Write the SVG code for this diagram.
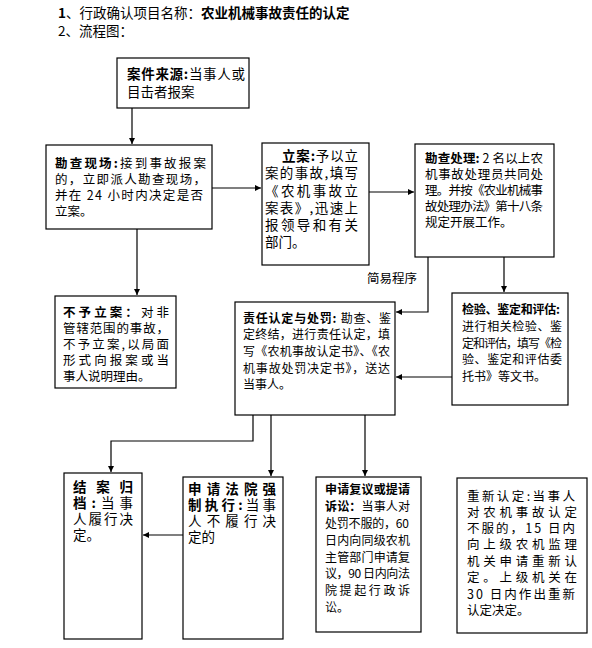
<svg xmlns="http://www.w3.org/2000/svg" width="592" height="648" viewBox="0 0 592 648">
<defs>
<style>
text{font-family:"Noto Sans CJK SC","Liberation Sans",sans-serif;fill:#000;dominant-baseline:central}
.b{font-weight:bold}
.box{fill:#fff;stroke:#000;stroke-width:1.2}
.ln{fill:none;stroke:#000;stroke-width:1.2}
.f13{font-size:12.5px}
.f12{font-size:12px}
.f14{font-size:13.5px}
.f15{font-size:13.5px}
</style>
<marker id="ah" viewBox="0 0 10 10" refX="10" refY="5" markerWidth="6" markerHeight="6" orient="auto" markerUnits="userSpaceOnUse">
<path d="M0,0 L10,5 L0,10 z" fill="#000"/>
</marker>
</defs>
<rect width="592" height="648" fill="#fff"/>

<g id="title">
<text x="58" y="12" font-size="13.5"><tspan class="b">1</tspan>、行政确认项目名称：<tspan class="b">农业机械事故责任的认定</tspan></text>
<text x="58" y="30" font-size="13.5">2、流程图：</text>
</g>

<g id="connectors">
<path class="ln" d="M132,108 V144" marker-end="url(#ah)"/>
<path class="ln" d="M212,188 H261" marker-end="url(#ah)"/>
<path class="ln" d="M369,192 H414" marker-end="url(#ah)"/>
<path class="ln" d="M137,229 V295" marker-end="url(#ah)"/>
<path class="ln" d="M428,257 V312 H396" marker-end="url(#ah)"/>
<path class="ln" d="M504,257 V292" marker-end="url(#ah)"/>
<path class="ln" d="M452,377 H396" marker-end="url(#ah)"/>
<path class="ln" d="M253,415 V441 H111 V472" marker-end="url(#ah)"/>
<path class="ln" d="M271,415 V476" marker-end="url(#ah)"/>
<path class="ln" d="M365,415 V476" marker-end="url(#ah)"/>
<path class="ln" d="M183,535 H143" marker-end="url(#ah)"/>
<text x="367" y="277" class="f13">简易程序</text>
</g>

<g id="n1">
<rect class="box" x="117" y="58" width="132" height="50"/>
<text x="127" y="73" class="f14" textLength="118" lengthAdjust="spacing"><tspan class="b">案件来源:</tspan>当事人或</text>
<text x="127" y="91" class="f14">目击者报案</text>
</g>

<g id="n2">
<rect class="box" x="46" y="145" width="166" height="84"/>
<text x="55" y="162" class="f13" textLength="151" lengthAdjust="spacing"><tspan class="b">勘查现场:</tspan>接到事故报案</text>
<text x="55" y="178" class="f13" textLength="151" lengthAdjust="spacing">的，立即派人勘查现场，</text>
<text x="55" y="194" class="f13" textLength="148" lengthAdjust="spacing">并在 24 小时内决定是否</text>
<text x="55" y="210" class="f13">立案。</text>
</g>

<g id="n3">
<rect class="box" x="262" y="143" width="107" height="122"/>
<text x="282" y="155" class="f14" textLength="76" lengthAdjust="spacing"><tspan class="b">立案:</tspan>予以立</text>
<text x="265" y="172" class="f14" textLength="93" lengthAdjust="spacing">案的事故,填写</text>
<text x="265" y="190" class="f14" textLength="93" lengthAdjust="spacing">《农机事故立</text>
<text x="265" y="207" class="f14" textLength="93" lengthAdjust="spacing">案表》,迅速上</text>
<text x="265" y="224" class="f14" textLength="93" lengthAdjust="spacing">报领导和有关</text>
<text x="265" y="241" class="f14">部门。</text>
</g>

<g id="n4">
<rect class="box" x="415" y="144" width="139" height="113"/>
<text x="425" y="157" class="f13" textLength="118" lengthAdjust="spacing"><tspan class="b">勘查处理:</tspan> 2 名以上农</text>
<text x="425" y="173" class="f13" textLength="118" lengthAdjust="spacing">机事故处理员共同处</text>
<text x="425" y="189" class="f13" textLength="118" lengthAdjust="spacing">理。并按《农业机械事</text>
<text x="425" y="205" class="f13" textLength="118" lengthAdjust="spacing">故处理办法》第十八条</text>
<text x="425" y="221" class="f13">规定开展工作。</text>
</g>

<g id="n5">
<rect class="box" x="55" y="296" width="121" height="92"/>
<text x="63" y="311" class="f13" textLength="106" lengthAdjust="spacing"><tspan class="b">不予立案：</tspan>对非</text>
<text x="63" y="327" class="f13" textLength="106" lengthAdjust="spacing">管辖范围的事故，</text>
<text x="63" y="343" class="f13" textLength="106" lengthAdjust="spacing">不予立案,以局面</text>
<text x="63" y="359" class="f13" textLength="106" lengthAdjust="spacing">形式向报案或当</text>
<text x="63" y="375" class="f13">事人说明理由。</text>
</g>

<g id="n6">
<rect class="box" x="235" y="302" width="160" height="113"/>
<text x="243" y="317" class="f12" textLength="148" lengthAdjust="spacing"><tspan class="b">责任认定与处罚:</tspan> 勘查、鉴</text>
<text x="243" y="333" class="f12" textLength="147" lengthAdjust="spacing">定终结，进行责任认定，填</text>
<text x="243" y="350" class="f12" textLength="147" lengthAdjust="spacing">写《农机事故认定书》、《农</text>
<text x="243" y="367" class="f12" textLength="147" lengthAdjust="spacing">机事故处罚决定书》，送达</text>
<text x="243" y="383" class="f12">当事人。</text>
</g>

<g id="n7">
<rect class="box" x="452" y="293" width="116" height="112"/>
<text x="462" y="308" class="f12 b" textLength="98" lengthAdjust="spacing">检验、鉴定和评估:</text>
<text x="462" y="325" class="f12" textLength="100" lengthAdjust="spacing">进行相关检验、鉴</text>
<text x="462" y="342" class="f12" textLength="100" lengthAdjust="spacing">定和评估，填写《检</text>
<text x="462" y="358" class="f12" textLength="100" lengthAdjust="spacing">验、鉴定和评估委</text>
<text x="462" y="375" class="f12">托书》等文书。</text>
</g>

<g id="n8">
<rect class="box" x="64" y="473" width="78" height="166"/>
<text x="73" y="486" class="f15 b" textLength="60" lengthAdjust="spacing">结案归</text>
<text x="73" y="502" class="f15" textLength="60" lengthAdjust="spacing"><tspan class="b">档:</tspan>当事</text>
<text x="73" y="518" class="f15" textLength="60" lengthAdjust="spacing">人履行决</text>
<text x="73" y="534" class="f15">定。</text>
</g>

<g id="n9">
<rect class="box" x="183" y="477" width="100" height="162"/>
<text x="188" y="488" class="f15 b" textLength="88" lengthAdjust="spacing">申请法院强</text>
<text x="188" y="504" class="f15" textLength="88" lengthAdjust="spacing"><tspan class="b">制执行:</tspan>当事</text>
<text x="188" y="520" class="f15" textLength="88" lengthAdjust="spacing">人不履行决</text>
<text x="188" y="536" class="f15">定的</text>
</g>

<g id="n10">
<rect class="box" x="316" y="477" width="105" height="155"/>
<text x="325" y="488" class="f12 b" textLength="85" lengthAdjust="spacing">申请复议或提请</text>
<text x="325" y="505" class="f12" textLength="85" lengthAdjust="spacing"><tspan class="b">诉讼：</tspan>当事人对</text>
<text x="325" y="522" class="f12" textLength="84" lengthAdjust="spacing">处罚不服的，60</text>
<text x="325" y="539" class="f12" textLength="85" lengthAdjust="spacing">日内向同级农机</text>
<text x="325" y="556" class="f12" textLength="85" lengthAdjust="spacing">主管部门申请复</text>
<text x="325" y="572" class="f12" textLength="85" lengthAdjust="spacing">议，90 日内向法</text>
<text x="325" y="589" class="f12" textLength="85" lengthAdjust="spacing">院提起行政诉</text>
<text x="325" y="606" class="f12">讼。</text>
</g>

<g id="n11">
<rect class="box" x="457" y="478" width="130" height="155"/>
<text x="467" y="495" class="f13" textLength="108" lengthAdjust="spacing">重新认定:当事人</text>
<text x="467" y="511" class="f13" textLength="110" lengthAdjust="spacing">对农机事故认定</text>
<text x="467" y="527" class="f13" textLength="108" lengthAdjust="spacing">不服的，15 日内</text>
<text x="467" y="543" class="f13" textLength="110" lengthAdjust="spacing">向上级农机监理</text>
<text x="467" y="560" class="f13" textLength="110" lengthAdjust="spacing">机关申请重新认</text>
<text x="467" y="576" class="f13" textLength="110" lengthAdjust="spacing">定。上级机关在</text>
<text x="467" y="593" class="f13" textLength="108" lengthAdjust="spacing">30 日内作出重新</text>
<text x="467" y="609" class="f13">认定决定。</text>
</g>
</svg>
